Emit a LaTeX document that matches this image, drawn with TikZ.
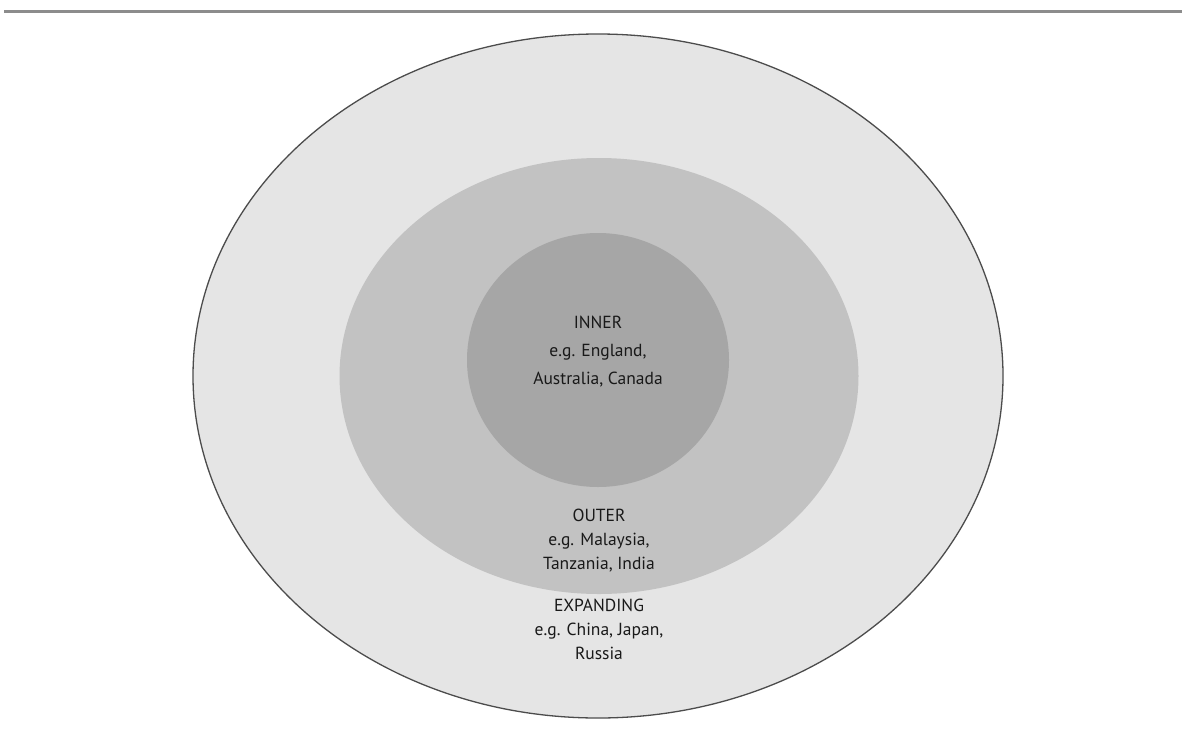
\documentclass[tikz,border=0pt]{standalone}
\usepackage{fontspec}
\setmainfont{PT Sans}
\usetikzlibrary{shapes.geometric}
\tikzset{
zone/.style={ellipse, inner sep=0pt},
zonelabel/.style={align=center, text=black!90,
    font=\fontsize{17.5}{24}\selectfont}
}

\begin{document}
\begin{tikzpicture}[x=1pt, y=-1pt]
	\useasboundingbox[fill=white] (0,0) rectangle (1182,739);
	\coordinate (ruleleft) at (4,11);
	\coordinate (ruleright) at (1182,11);
	\draw[line width=3pt, black!45] (ruleleft) -- (ruleright);
	% the three circles
	\node[zone, fill=black!10, draw=black!70, line width=1.3pt,
		minimum width=810pt, minimum height=684pt] (expanding) at (598,376) {};
	\node[zone, fill=black!24, minimum width=519pt, minimum height=436pt]
		(outer) at (599,376) {};
	\node[zone, fill=black!35, minimum width=262pt, minimum height=254pt]
		(inner) at (598,360) {};
	% labels
	\node[zonelabel, font=\fontsize{17.5}{28}\selectfont] (innerlabel) at (598,352)
		{INNER\\e.g. England,\\Australia, Canada};
	\node[zonelabel] (outerlabel) at (599,541)
		{OUTER\\e.g. Malaysia,\\Tanzania, India};
	\node[zonelabel] (expandinglabel) at (599,629)
		{EXPANDING\\e.g. China, Japan,\\Russia};
\end{tikzpicture}
\end{document}
